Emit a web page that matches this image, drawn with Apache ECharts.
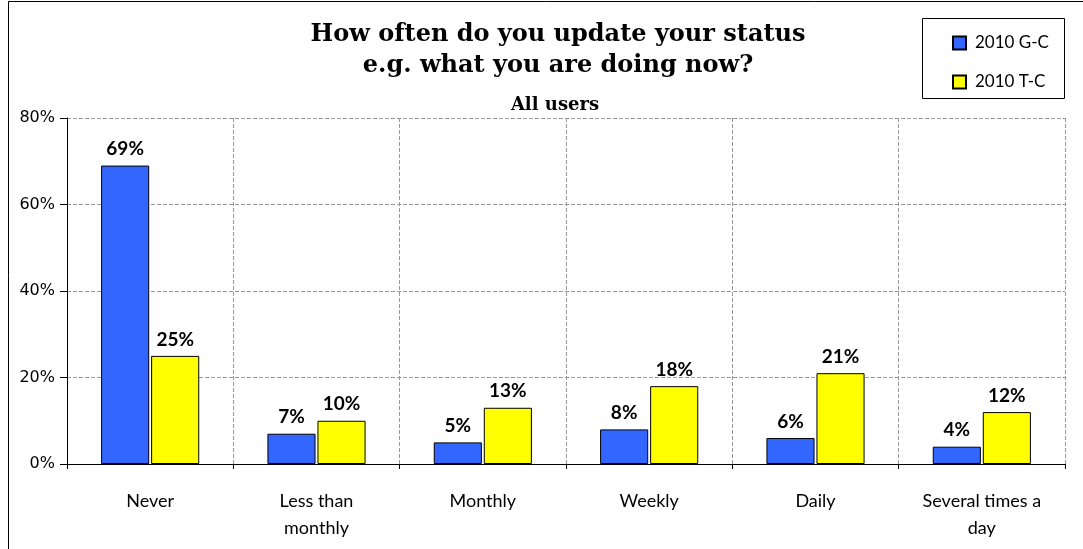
<!DOCTYPE html>
<html><head><meta charset="utf-8">
<script src="https://cdn.jsdelivr.net/npm/echarts@6/dist/echarts.min.js"></script>
<style>html,body{margin:0;padding:0;background:#fff}#c{width:1083px;height:549px}</style>
</head><body><div id="c"></div>
<script>
const categories = ['Never', 'Less than\nmonthly', 'Monthly', 'Weekly', 'Daily', 'Several times a\nday'];
const seriesGC = [69, 7, 5, 8, 6, 4];
const seriesTC = [25, 10, 13, 18, 21, 12];
const seriesNames = ['2010 G-C', '2010 T-C'];
const yTicks = { min: 0, max: 80, interval: 20 };

const chart = echarts.init(document.getElementById('c'));
const labelStyle = { show: true, position: 'top', distance: 7, formatter: '{c}%', fontWeight: 'bold', fontSize: 19, color: '#000', fontFamily: 'Lato' };
chart.setOption({
  animation: false,
  graphic: [
    { type: 'polyline', shape: { points: [[8.5, 549], [8.5, 1.5], [1083, 1.5]] }, style: { fill: 'none', stroke: '#000', lineWidth: 1 }, z: -10 },
    { type: 'rect', shape: { x: 922.5, y: 18.5, width: 142, height: 80 }, style: { fill: '#fff', stroke: '#000', lineWidth: 1 }, z: 5 }
  ],
  title: [
    { text: 'How often do you update your status\ne.g. what you are doing now?', left: 553, textAlign: 'center', top: 14,
      textStyle: { fontFamily: 'DejaVu Serif', fontWeight: 'bold', fontSize: 24, lineHeight: 31, color: '#000' } },
    { text: 'All users', left: 550, textAlign: 'center', top: 91,
      textStyle: { fontFamily: 'DejaVu Serif', fontWeight: 'bold', fontSize: 18, lineHeight: 18, color: '#000' } }
  ],
  legend: {
    orient: 'vertical', left: 947, top: 29, itemGap: 21, itemWidth: 13, itemHeight: 13,
    icon: 'rect', data: seriesNames, z: 10,
    textStyle: { fontFamily: 'Lato', fontSize: 17, lineHeight: 18, color: '#000', padding: [0, 0, 0, 4] }
  },
  grid: { left: 67, right: 18, top: 118, bottom: 85 },
  xAxis: {
    type: 'category', data: categories,
    axisLine: { lineStyle: { color: '#000' } },
    axisTick: { show: true, length: 5, interval: 0, lineStyle: { color: '#000' } },
    axisLabel: { interval: 0, fontFamily: 'Lato', fontSize: 18, color: '#000', margin: 24, lineHeight: 27, hideOverlap: false },
    splitLine: { show: true, interval: 0, lineStyle: { type: 'dashed', color: '#999' } }
  },
  yAxis: {
    type: 'value', min: yTicks.min, max: yTicks.max, interval: yTicks.interval,
    axisLine: { show: true, lineStyle: { color: '#000' } },
    axisTick: { show: true, length: 7, lineStyle: { color: '#000' } },
    axisLabel: { formatter: '{value}%', fontFamily: 'DejaVu Sans', fontSize: 16, color: '#000', margin: 12 },
    splitLine: { show: true, lineStyle: { type: 'dashed', color: '#999' } }
  },
  series: [
    { name: seriesNames[0], type: 'bar', data: seriesGC, barGap: '4%', barCategoryGap: '41%',
      itemStyle: { color: '#3366FF', borderColor: '#000', borderWidth: 1 }, label: labelStyle },
    { name: seriesNames[1], type: 'bar', data: seriesTC,
      itemStyle: { color: '#FFFF00', borderColor: '#000', borderWidth: 1 }, label: labelStyle }
  ]
});
</script></body></html>
